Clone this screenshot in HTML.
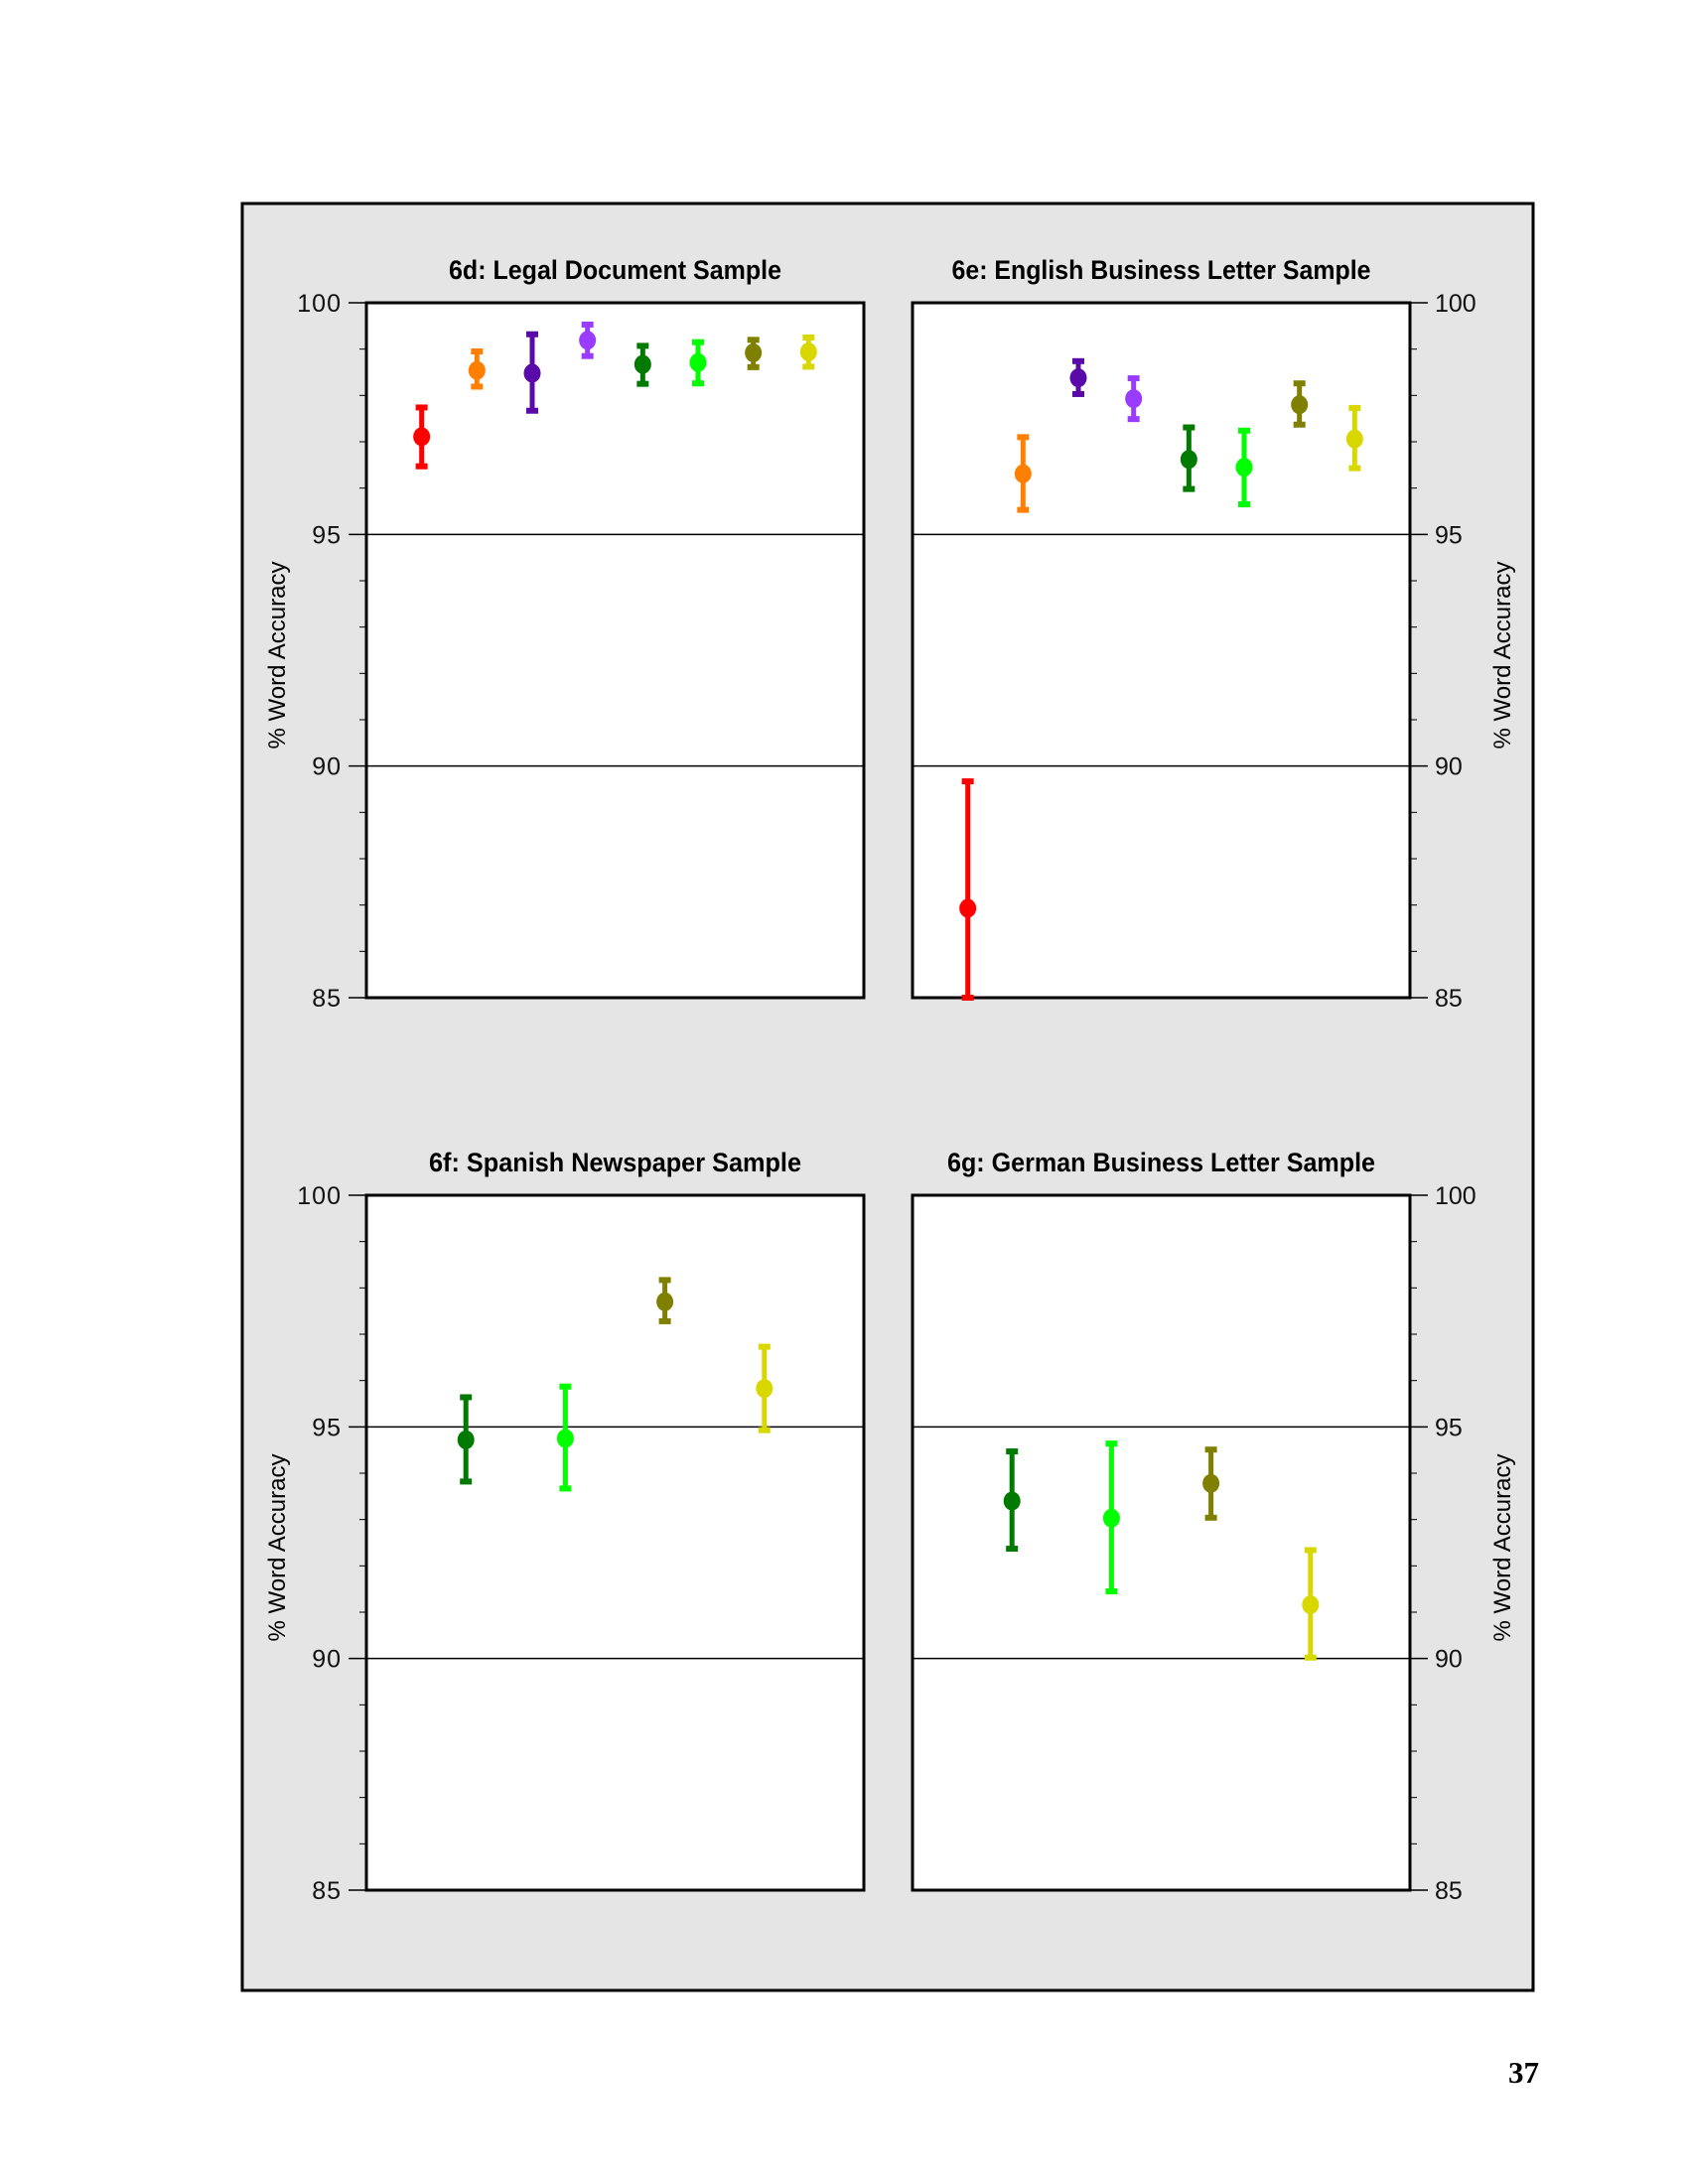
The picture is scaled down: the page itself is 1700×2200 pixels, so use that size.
<!DOCTYPE html>
<html><head><meta charset="utf-8"><style>
html,body{margin:0;padding:0;background:#fff;}
svg{display:block;}
text{font-family:"Liberation Sans",Arial,sans-serif;}
</style></head><body>
<svg id="chart" width="1700" height="2200" viewBox="0 0 1700 2200" xmlns="http://www.w3.org/2000/svg">
<rect x="244" y="205" width="1300" height="1800" fill="#e5e5e5" stroke="#000" stroke-width="3"/>
<text x="1550" y="2098" text-anchor="end" font-weight="bold" font-size="31" style="font-family:'Liberation Serif',serif">37</text>
</svg>
<script>
// ---- data ----
const colors = ["#ff0000","#ff8000","#5a0aa8","#9a3cff","#007a00","#00ff00","#808000","#d8d800"];
const yTicks = [100,95,90,85];
const panelTitles = ["6d:  Legal Document Sample","6e:  English Business Letter Sample","6f:  Spanish Newspaper Sample","6g:  German Business Letter Sample"];
// panel 6d: 8 systems
const dSlots = [0,1,2,3,4,5,6,7];
const dMean = [97.11,98.54,98.48,99.19,98.67,98.71,98.92,98.94];
const dHigh = [97.74,98.95,99.32,99.53,99.07,99.15,99.20,99.25];
const dLow  = [96.47,98.19,97.67,98.85,98.25,98.26,98.61,98.62];
const dColor = [0,1,2,3,4,5,6,7];
// panel 6e
const eSlots = [0,1,2,3,4,5,6,7];
const eMean = [86.93,96.31,98.38,97.93,96.62,96.45,97.80,97.06];
const eHigh = [89.67,97.10,98.74,98.37,97.31,97.24,98.26,97.73];
const eLow  = [85.00,95.53,98.03,97.49,95.98,95.65,97.37,96.43];
const eColor = [0,1,2,3,4,5,6,7];
// panel 6f
const fSlots = [0,1,2,3];
const fMean = [94.72,94.75,97.70,95.83];
const fHigh = [95.64,95.87,98.17,96.73];
const fLow  = [93.82,93.67,97.28,94.93];
const fColor = [4,5,6,7];
// panel 6g
const gSlots = [0,1,2,3];
const gMean = [93.40,93.03,93.78,91.16];
const gHigh = [94.47,94.64,94.51,92.34];
const gLow  = [92.37,91.45,93.04,90.02];
const gColor = [4,5,6,7];

const NS="http://www.w3.org/2000/svg";
const svg=document.getElementById('chart');
function mk(tag,attrs,parent){const e=document.createElementNS(NS,tag);for(const k in attrs)e.setAttribute(k,attrs[k]);(parent||svg).appendChild(e);return e;}

const panels=[
 {x0:369,x1:870,y0:305,y1:1005,side:'left', slots:dSlots,mean:dMean,hi:dHigh,lo:dLow,col:dColor,div:9,title:panelTitles[0],tl:335,name:'panel-6d'},
 {x0:919,x1:1420,y0:305,y1:1005,side:'right',slots:eSlots,mean:eMean,hi:eHigh,lo:eLow,col:eColor,div:9,title:panelTitles[1],tl:422,name:'panel-6e'},
 {x0:369,x1:870,y0:1204,y1:1904,side:'left', slots:fSlots,mean:fMean,hi:fHigh,lo:fLow,col:fColor,div:5,title:panelTitles[2],tl:375,name:'panel-6f'},
 {x0:919,x1:1420,y0:1204,y1:1904,side:'right',slots:gSlots,mean:gMean,hi:gHigh,lo:gLow,col:gColor,div:5,title:panelTitles[3],tl:431,name:'panel-6g'}
];
panels.forEach(p=>{
  const g=mk('g',{});
  
  
  const yS=v=>p.y0+(100-v)/15*(p.y1-p.y0);
  const xS=i=>p.x0+(i+1)*(p.x1-p.x0)/p.div;
  const bg=mk('rect',{x:p.x0,y:p.y0,width:p.x1-p.x0,height:p.y1-p.y0,fill:'#fff'},g);
  
  
  [95,90].forEach(v=>{
    const l=mk('line',{x1:p.x0,x2:p.x1,y1:yS(v),y2:yS(v),stroke:'#000','stroke-width':1.5},g);
    
    
  });
  const fr=mk('rect',{x:p.x0,y:p.y0,width:p.x1-p.x0,height:p.y1-p.y0,fill:'none',stroke:'#000','stroke-width':3},g);
  
  
  const t=mk('text',{x:(p.x0+p.x1)/2,y:p.y0-24,'text-anchor':'middle','font-weight':'bold','font-size':27,textLength:p.tl,lengthAdjust:'spacingAndGlyphs'},g);
  t.textContent=p.title;
  
  
  // ticks
  const ax=p.side=='left'?p.x0:p.x1, dir=p.side=='left'?-1:1;
  for(let v=85;v<=100;v++){
    const major=v%5==0;
    const tk=mk('line',{x1:ax,x2:ax+dir*(major?18:7),y1:yS(v),y2:yS(v),stroke:'#000','stroke-width':major?1.5:1},g);
    
    
  }
  yTicks.forEach(v=>{
    const lb=mk('text',{x:ax+dir*25,y:yS(v)+9,'text-anchor':p.side=='left'?'end':'start','font-size':25,fill:'#111','letter-spacing':p.side=='left'?'1':'0'},g);
    lb.textContent=v;
    
    
  });
  const tx=p.side=='left'?287:1521, ty=(p.y0+p.y1)/2+5;
  const at=mk('text',{x:tx,y:ty,'text-anchor':'middle','font-size':24,transform:`rotate(-90 ${tx} ${ty})`},g);
  at.textContent='% Word Accuracy';
  
  
  // marks
  p.slots.forEach((s,i)=>{
    const c=colors[p.col[i]], x=xS(s);
    const hi=Math.min(p.hi[i],100), lo=Math.max(p.lo[i],85);
    const eb=mk('g',{},g);
    
    
    mk('line',{x1:x,x2:x,y1:yS(hi),y2:yS(lo),stroke:c,'stroke-width':5},eb);
    mk('line',{x1:x-6,x2:x+6,y1:yS(hi),y2:yS(hi),stroke:c,'stroke-width':6},eb);
    mk('line',{x1:x-6,x2:x+6,y1:yS(lo),y2:yS(lo),stroke:c,'stroke-width':6},eb);
    const pt=mk('ellipse',{cx:x,cy:yS(p.mean[i]),rx:8.5,ry:9.5,fill:c},g);
    
    
  });
});
</script>
</body></html>
